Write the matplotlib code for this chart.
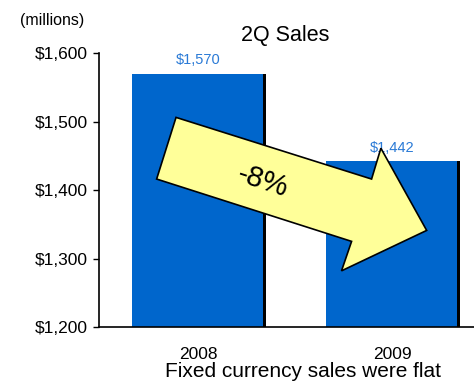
import matplotlib.pyplot as plt
from matplotlib.patches import Polygon

plt.rcParams['font.family'] = ['Liberation Sans', 'DejaVu Sans']

years = ["2008", "2009"]
sales = [1570, 1442]
value_labels = ["$1,570", "$1,442"]
yticks = [1200, 1300, 1400, 1500, 1600]
change_label = "-8%"

bar_blue = "#0066cc"
label_blue = "#2a7ad6"

fig = plt.figure(figsize=(4.74, 3.83), dpi=100)
ax = fig.add_axes([0.2089, 0.1462, 0.7911, 0.7154])

x = range(len(years))
# black drop shadow behind each bar
ax.bar([i + 0.011 for i in x], [s - 1200 for s in sales], width=0.675,
       bottom=1200, color="black", zorder=1)
ax.bar(x, [s - 1200 for s in sales], width=0.675, bottom=1200,
       color=bar_blue, zorder=2)

for i, (s, lab) in enumerate(zip(sales, value_labels)):
    ax.text(i, s + 9, lab, ha="center", va="bottom", color=label_blue,
            fontsize=10.5, zorder=3)

ax.set_ylim(1200, 1600)
ax.set_xlim(-0.51, 1.423)
ax.set_yticks(yticks)
ax.set_yticklabels(["${:,}".format(v) for v in yticks], fontsize=12.5)
ax.tick_params(axis="y", direction="out", length=4, width=1, pad=4)
ax.set_xticks([])
for side in ["top", "right"]:
    ax.spines[side].set_visible(False)
ax.spines["left"].set_linewidth(1.2)
ax.spines["bottom"].set_linewidth(1.2)
ax.spines["bottom"].set_zorder(5)

# the big yellow arrow
arrow_pts = [(-0.113, 1506), (0.895, 1416), (0.943, 1461), (1.179, 1341),
             (0.740, 1282), (0.792, 1325), (-0.213, 1416)]
ax.add_patch(Polygon(arrow_pts, closed=True, facecolor="#ffff99",
                     edgecolor="black", linewidth=1.2, zorder=4,
                     clip_on=False))
ax.text(0.333, 1412, change_label, rotation=-18, ha="center", va="center",
        fontsize=21, zorder=6, rotation_mode="anchor")

for i, yr in enumerate(years):
    ax.text(i, 1200 - 40, yr, ha="center", va="center", fontsize=12.5,
            transform=ax.transData, clip_on=False)

fig.text(285 / 474, 1 - 35 / 383, "2Q Sales", ha="center", va="center",
         fontsize=15.5)
fig.text(20 / 474, 1 - 20 / 383, "(millions)", ha="left", va="center",
         fontsize=11.5)
fig.text(303 / 474, 1 - 377 / 383, "Fixed currency sales were flat",
         ha="center", va="baseline", fontsize=15)

fig.savefig("out.png", dpi=100)
